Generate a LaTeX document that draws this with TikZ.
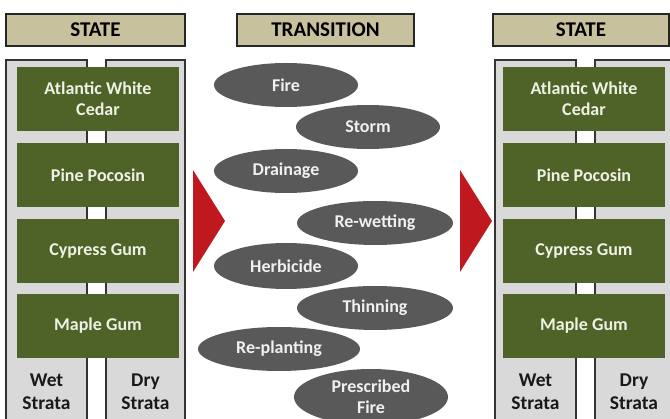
\documentclass[tikz,border=0pt]{standalone}
\usepackage{fontspec}
\setmainfont{Carlito}
\usetikzlibrary{shapes.geometric}
\definecolor{headtan}{HTML}{C8C19E}
\definecolor{strgrey}{HTML}{D9D9D9}
\definecolor{olive}{HTML}{4F6228}
\definecolor{olivetext}{HTML}{EEF1E4}
\definecolor{ovalgrey}{HTML}{595959}
\definecolor{arrowred}{HTML}{C0181F}
\tikzset{
  header/.style={draw=black!85, line width=1.3pt, fill=headtan, minimum height=32pt,
    inner sep=0pt, font=\fontsize{21}{24}\selectfont\bfseries},
  stratum/.style={draw=black!80, line width=1.3pt, fill=strgrey, minimum height=366pt, inner sep=0pt},
  stratlabel/.style={align=center, font=\fontsize{19.5}{23}\selectfont\bfseries, text=black!90},
  statebox/.style={fill=olive, minimum width=162pt, minimum height=64pt, inner sep=0pt,
    align=center, text=olivetext, font=\fontsize{18}{21}\selectfont\bfseries},
  oval/.style={ellipse, fill=ovalgrey, inner sep=0pt, align=center, text=white!94!black,
    font=\fontsize{18}{21}\selectfont\bfseries}
}
\begin{document}
\begin{tikzpicture}[x=1pt,y=-1pt]
\useasboundingbox (0,0) rectangle (670,419);
\clip (0,0) rectangle (670,419);

% headers
\node[header, minimum width=179pt] (stateL) at (95.5,30) {STATE};
\node[header, minimum width=177pt] (trans) at (325.5,30) {TRANSITION};
\node[header, minimum width=176pt] (stateR) at (581,30) {STATE};

% left state column
\node[stratum, minimum width=81pt] (wetL) at (46.5,243) {};
\node[stratum, minimum width=79pt] (dryL) at (145.5,243) {};
\node[statebox] (awcL) at (98,99) {Atlantic White\\Cedar};
\node[statebox] (ppL) at (98,175) {Pine Pocosin};
\node[statebox] (cgL) at (98,251) {Cypress Gum};
\node[statebox] (mgL) at (98,326) {Maple Gum};
\node[stratlabel] (wetLt) at (46.5,392) {Wet\\Strata};
\node[stratlabel] (dryLt) at (145.5,392) {Dry\\Strata};

% right state column
\node[stratum, minimum width=81pt] (wetR) at (535.5,243) {};
\node[stratum, minimum width=95pt] (dryR) at (642.5,243) {};
\node[statebox] (awcR) at (584,99) {Atlantic White\\Cedar};
\node[statebox] (ppR) at (584,175) {Pine Pocosin};
\node[statebox] (cgR) at (584,251) {Cypress Gum};
\node[statebox] (mgR) at (584,326) {Maple Gum};
\node[stratlabel] (wetRt) at (535.5,392) {Wet\\Strata};
\node[stratlabel] (dryRt) at (634,392) {Dry\\Strata};

% direction arrows
\fill[arrowred] (193,170) -- (225,221) -- (193,272) -- cycle;
\fill[arrowred] (460,170) -- (492,221) -- (460,272) -- cycle;

% transitions
\node[oval, minimum width=144pt, minimum height=44pt] (fire) at (286,85) {Fire};
\node[oval, minimum width=144pt, minimum height=44pt] (storm) at (368,127) {Storm};
\node[oval, minimum width=144pt, minimum height=44pt] (drain) at (286,171) {Drainage};
\node[oval, minimum width=156pt, minimum height=44pt] (rewet) at (375,223) {Re-wetting};
\node[oval, minimum width=144pt, minimum height=46pt] (herb) at (286,266) {Herbicide};
\node[oval, minimum width=156pt, minimum height=44pt] (thin) at (375,308) {Thinning};
\node[oval, minimum width=162pt, minimum height=44pt] (replant) at (279,349) {Re-planting};
\node[oval, minimum width=154pt, minimum height=56pt] (presc) at (371,397) {Prescribed\\Fire};
\end{tikzpicture}
\end{document}
